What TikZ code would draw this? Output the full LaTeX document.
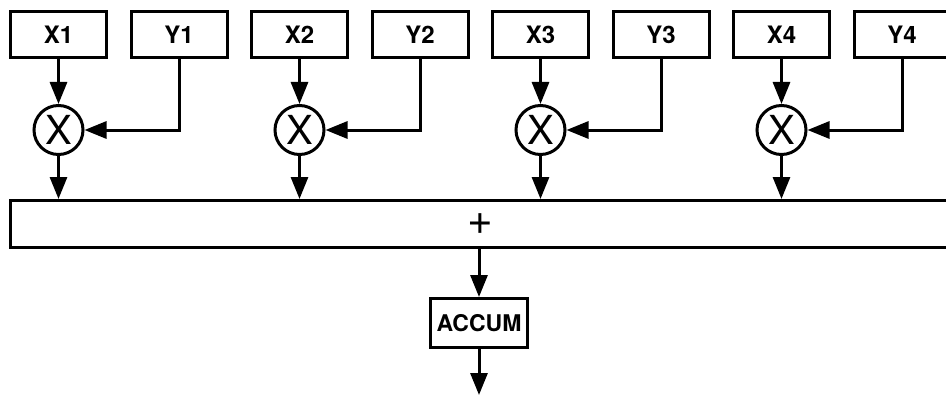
\documentclass[tikz,border=0pt]{standalone}
\usepackage{fontspec}
\setmainfont{TeX Gyre Heros}
\usetikzlibrary{arrows.meta}
\begin{document}
\begin{tikzpicture}[x=1pt,y=-1pt,line width=3pt,
  inbox/.style={draw,rectangle,minimum width=96pt,minimum height=46pt,inner sep=0pt,
    font=\fontsize{24}{24}\selectfont\bfseries},
  mult/.style={draw,circle,minimum size=49pt,inner sep=0pt,
    font=\fontsize{40}{40}\selectfont},
  flow/.style={-{Triangle[length=22pt,width=17pt]}},
  sumbar/.style={draw,rectangle,minimum width=940pt,minimum height=47pt,inner sep=0pt,
    font=\fontsize{44}{44}\selectfont},
  accbox/.style={draw,rectangle,minimum width=97pt,minimum height=49pt,inner sep=0pt,
    font=\fontsize{23}{23}\selectfont\bfseries}]
\useasboundingbox (0,0) rectangle (946,396);
\clip (0,0) rectangle (946,396);

% adder bar running across the bottom of the multipliers
\node[sumbar] (sum) at (480,224) {+};

% four multiply lanes
\foreach \k in {1,2,3,4}{
  \pgfmathsetmacro{\xo}{241*(\k-1)}
  \node[inbox] (x\k) at (58.5+\xo,35) {X\k};
  \node[inbox] (y\k) at (179+\xo,35) {Y\k};
  \node[mult]  (m\k) at (58.5+\xo,130) {X};
  \draw[flow] (x\k.south) -- (m\k.north);
  \draw[flow] (y\k.south) |- (m\k.east);
  \draw[flow] (m\k.south) -- (m\k.south |- sum.north);
}

% accumulator and output
\node[accbox] (acc) at (479,323) {ACCUM};
\coordinate (out) at (479,395);
\draw[flow] (acc.north |- sum.south) -- (acc.north);
\draw[flow] (acc.south) -- (out);
\end{tikzpicture}
\end{document}
